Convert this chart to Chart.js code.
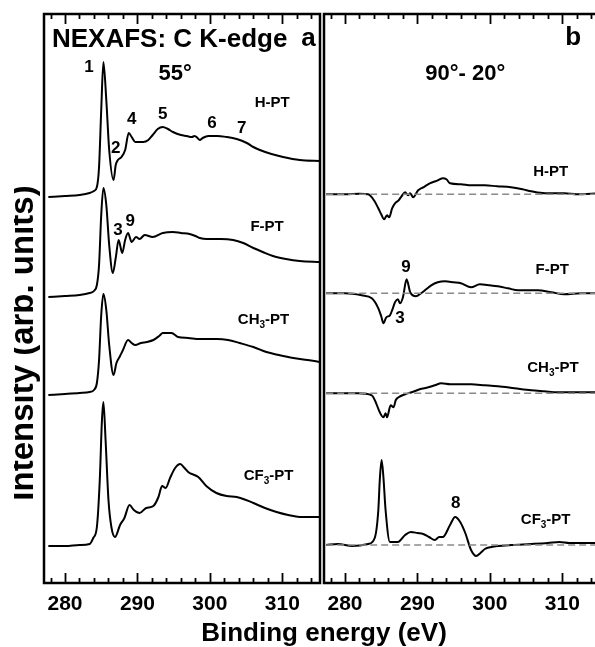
<!DOCTYPE html>
<html><head><meta charset="utf-8">
<script src="https://cdn.jsdelivr.net/npm/chart.js@4.4.1/dist/chart.umd.min.js"></script>
<style>
html,body{margin:0;padding:0;background:#fff;overflow:hidden;width:595px;height:647px;}
#wrap{position:relative;width:602px;height:647px;}
canvas{position:absolute;left:0;top:0;}
</style></head><body>
<div id="wrap"><canvas id="ca" width="602" height="647"></canvas><canvas id="cb" width="602" height="647"></canvas></div>
<script>
// ---------- Panel a: NEXAFS C K-edge, 55 deg (intensity relative to pre-edge, arb. units) ----------
const hptE = [277.7,280,282,283.4,284.0,284.4,284.7,285.0,285.3,285.7,286.1,286.7,287.0,287.3,287.8,288.3,288.8,289.2,289.7,290.8,291.5,292.1,292.8,293.5,294.2,294.9,296.0,296.8,297.5,297.9,298.3,298.6,299.0,299.8,301.0,302.3,303.7,305.1,306.0,306.9,308.5,310.1,312.4,315.2];
const hptI = [0,0.01,0.02,0.04,0.06,0.10,0.30,0.87,1.35,0.97,0.47,0.17,0.32,0.37,0.40,0.47,0.64,0.60,0.55,0.55,0.57,0.62,0.68,0.70,0.68,0.65,0.62,0.61,0.60,0.61,0.59,0.57,0.59,0.61,0.61,0.60,0.58,0.54,0.50,0.47,0.43,0.40,0.37,0.36];
const fptE = [277.7,280,282,283.4,284.0,284.4,284.7,285.0,285.3,285.7,286.1,286.6,287.0,287.4,287.9,288.3,288.7,289.2,289.8,290.3,291.0,292.1,293.5,294.9,296.0,297.2,298.0,298.6,299.6,301.5,303.2,304.6,306.0,307.3,308.7,310.5,312.4,315.2];
const fptI = [0,0.01,0.02,0.04,0.06,0.12,0.32,0.82,1.09,0.92,0.52,0.24,0.39,0.57,0.44,0.57,0.64,0.55,0.60,0.58,0.62,0.60,0.64,0.65,0.64,0.63,0.61,0.59,0.58,0.58,0.57,0.54,0.49,0.45,0.41,0.38,0.36,0.35];
const ch3E = [277.7,280,282,283.4,284.0,284.4,284.7,285.0,285.3,285.7,286.1,286.7,287.1,287.6,288.0,288.7,289.2,289.7,290.5,291.3,292.2,293.0,293.5,294.7,295.6,297.0,298.6,301.0,302.5,304.1,306.0,307.8,309.5,311.5,313.5,315.2];
const ch3I = [0,0.01,0.02,0.03,0.05,0.12,0.35,0.80,1.01,0.85,0.50,0.20,0.32,0.39,0.45,0.55,0.52,0.50,0.52,0.53,0.55,0.59,0.62,0.62,0.58,0.57,0.56,0.56,0.55,0.52,0.48,0.43,0.40,0.37,0.35,0.33];
const cf3E = [277.7,280,282,283.4,283.9,284.4,284.8,285.1,285.3,285.6,286.0,286.4,286.9,287.6,288.2,288.9,289.5,290.3,291.2,292.2,292.9,293.4,293.9,294.5,295.2,295.9,296.5,297.0,298.4,299.5,300.9,302.3,303.7,305.0,306.0,307.6,309.2,310.8,312.4,315.2];
const cf3I = [0,0,0.01,0.02,0.08,0.19,0.66,1.26,1.44,1.06,0.46,0.19,0.09,0.21,0.28,0.41,0.36,0.33,0.38,0.40,0.49,0.60,0.58,0.68,0.78,0.82,0.78,0.74,0.69,0.60,0.53,0.50,0.49,0.46,0.43,0.38,0.34,0.31,0.29,0.29];
const offsetsA = [3.86, 2.86, 1.88, 0.37];   // vertical stacking offsets (H, F, CH3, CF3)

// ---------- Panel b: difference spectra 90 deg - 20 deg ----------
const dhE = [277.4,280,282,283.2,284.0,284.6,285.0,285.4,285.8,286.1,286.5,286.9,287.4,287.8,288.3,288.7,289.0,289.4,290.1,290.8,291.7,292.5,293.5,294.0,294.5,296.0,297.4,299.3,301.0,302.9,304.5,305.7,307.6,310.3,312,315];
const dhI = [0,0,0.005,0,-0.06,-0.14,-0.20,-0.25,-0.21,-0.23,-0.14,-0.09,-0.06,-0.02,0.02,-0.01,0.01,-0.03,0.04,0.07,0.11,0.13,0.16,0.15,0.11,0.10,0.09,0.09,0.08,0.07,0.05,0.03,0.01,0.01,0,0.01];
const dfE = [277.4,280,282.3,283.7,284.6,285.0,285.3,285.7,286.2,286.6,286.9,287.3,287.6,288.0,288.5,289.0,289.8,290.5,291.2,291.9,292.8,293.8,295.0,296.0,297.4,298.6,300.0,301.1,302.5,303.9,305.3,306.6,308.5,310.3,312.6,315];
const dfI = [0,0,-0.02,-0.05,-0.15,-0.23,-0.30,-0.24,-0.22,-0.15,-0.09,-0.06,-0.10,-0.04,0.14,0.01,-0.03,0,0.04,0.08,0.11,0.12,0.11,0.10,0.06,0.09,0.08,0.07,0.05,0.03,0.03,0.03,0.01,-0.01,0,0];
const dmE = [277.4,281.8,283.7,284.3,284.8,285.3,285.6,285.8,286.3,286.7,287.0,287.4,288.3,289.2,290.3,291.5,292.4,293.3,294.5,295.6,297.4,299.3,301.1,303.4,305.7,307.5,309.4,312,315];
const dmI = [0,0,-0.02,-0.10,-0.19,-0.24,-0.20,-0.24,-0.12,-0.14,-0.07,-0.04,-0.01,0.01,0.04,0.06,0.08,0.10,0.09,0.09,0.09,0.08,0.07,0.05,0.03,0.02,0.01,0.01,0.01];
const dcE = [277.4,279,281,283.2,284.1,284.6,284.8,285.05,285.3,285.6,286.2,287.3,288.3,289.1,290.0,290.8,291.6,292.4,293.0,293.5,294.5,295.2,295.9,296.6,297.4,298.1,298.7,299.3,300.2,301.1,303,305.7,308,309.6,311,315];
const dcI = [0,0.01,-0.01,0.01,0.07,0.35,0.65,0.85,0.68,0.35,0.03,0.03,0.10,0.13,0.12,0.11,0.08,0.05,0.08,0.08,0.20,0.28,0.23,0.12,-0.05,-0.11,-0.08,-0.04,-0.02,-0.01,0,0.01,0.02,0.03,0.02,0.02];
const offsetsB = [3.887, 2.897, 1.897, 0.38];

const xTickLabels = [280, 290, 300, 310];
const xRange = [277.1, 315.2];
const yRange = [0, 5.69];

// annotations: text parts [normal, subscript, normal]
const annotA = [
  {t:['NEXAFS: C K-edge'], x:278.2, y:5.36, s:26, al:'left'},
  {t:['a'], x:313.6, y:5.37, s:26},
  {t:['55°'], x:295.2, y:5.03, s:22},
  {t:['1'], x:283.3, y:5.11, s:17},
  {t:['2'], x:287.0, y:4.30, s:17},
  {t:['4'], x:289.2, y:4.59, s:17},
  {t:['5'], x:293.5, y:4.64, s:17},
  {t:['6'], x:300.3, y:4.55, s:17},
  {t:['7'], x:304.4, y:4.50, s:17},
  {t:['H-PT'], x:308.6, y:4.76, s:15},
  {t:['3'], x:287.3, y:3.48, s:17},
  {t:['9'], x:289.0, y:3.57, s:17},
  {t:['F-PT'], x:307.9, y:3.52, s:15},
  {t:['CH','3','-PT'], x:307.4, y:2.59, s:15},
  {t:['CF','3','-PT'], x:308.1, y:1.03, s:15}
];
const annotB = [
  {t:['b'], x:311.5, y:5.38, s:26},
  {t:['90°- 20°'], x:296.6, y:5.03, s:22},
  {t:['H-PT'], x:308.4, y:4.07, s:15},
  {t:['F-PT'], x:308.6, y:3.09, s:15},
  {t:['9'], x:288.4, y:3.11, s:17},
  {t:['3'], x:287.6, y:2.60, s:17},
  {t:['CH','3','-PT'], x:308.7, y:2.11, s:15},
  {t:['8'], x:295.3, y:0.75, s:17},
  {t:['CF','3','-PT'], x:307.7, y:0.59, s:15}
];

const FONT = "'Liberation Sans', Arial, Helvetica, sans-serif";
Chart.defaults.font.family = FONT;
Chart.defaults.color = '#000';

function series(E, I, off) { return E.map((e, i) => ({x: e, y: I[i] + off})); }
function lineDs(data) {
  return {data, borderColor:'#000', borderWidth:2, pointRadius:0, fill:false,
          cubicInterpolationMode:'monotone', tension:0.3};
}
function baseDs(off) {
  return {data:[{x:277.4,y:off},{x:315.2,y:off}], borderColor:'#8a8a8a', borderWidth:1.6,
          borderDash:[7,4], pointRadius:0, fill:false};
}

function drawRich(ctx, parts, x, y, size, align) {
  const big = `bold ${size}px ${FONT}`, small = `bold ${Math.round(size*0.66)}px ${FONT}`;
  const widths = parts.map((p, i) => { ctx.font = (i % 2 === 1) ? small : big; return ctx.measureText(p).width; });
  const total = widths.reduce((a, b) => a + b, 0);
  let cx = align === 'left' ? x : x - total / 2;
  ctx.textAlign = 'left'; ctx.textBaseline = 'alphabetic'; ctx.fillStyle = '#000';
  parts.forEach((p, i) => {
    ctx.font = (i % 2 === 1) ? small : big;
    ctx.fillText(p, cx, (i % 2 === 1) ? y + size * 0.25 : y);
    cx += widths[i];
  });
}

function panelPlugin(annots, withTitles) {
  return {
    id: 'panel',
    afterDraw(chart) {
      const {ctx, chartArea: a, scales: {x, y}} = chart;
      ctx.save();
      // inward ticks, top and bottom
      ctx.strokeStyle = '#000'; ctx.lineWidth = 1.8;
      for (let v = 278; v <= 314; v += 2) {
        const px = Math.round(x.getPixelForValue(v)) + 0.5;
        if (px < a.left || px > a.right) continue;
        const len = (v % 10 === 0) ? 10 : 5;
        ctx.beginPath();
        ctx.moveTo(px, a.bottom); ctx.lineTo(px, a.bottom - len);
        ctx.moveTo(px, a.top); ctx.lineTo(px, a.top + len);
        ctx.stroke();
      }
      // frame
      ctx.lineWidth = 2.5;
      ctx.strokeRect(a.left, a.top, a.right - a.left, a.bottom - a.top);
      // annotations
      annots.forEach(o => drawRich(ctx, o.t, x.getPixelForValue(o.x), y.getPixelForValue(o.y), o.s, o.al));
      if (withTitles) {
        ctx.font = `bold 26px ${FONT}`; ctx.textAlign = 'center'; ctx.textBaseline = 'alphabetic';
        ctx.fillText('Binding energy (eV)', 324, 641);
        ctx.save();
        ctx.beginPath(); ctx.rect(14, 0, 40, 647); ctx.clip();
        ctx.translate(33, 343); ctx.rotate(-Math.PI / 2);
        ctx.font = `bold 33px ${FONT}`;
        ctx.fillText('Intensity (arb. units)', 0, 0);
        ctx.restore();
      }
      ctx.restore();
    }
  };
}

function makeOptions(padL, padR) {
  return {
    responsive:false, animation:false, devicePixelRatio:1,
    layout:{padding:{top:14, left:padL, right:padR, bottom:0}},
    plugins:{legend:{display:false}, tooltip:{enabled:false}},
    scales:{
      x:{type:'linear', min:xRange[0], max:xRange[1],
         grid:{display:false, drawTicks:false}, border:{display:false},
         afterBuildTicks(s){ s.ticks = xTickLabels.map(v => ({value:v})); },
         ticks:{font:{size:21, weight:'bold'}, color:'#000', padding:9, maxRotation:0, autoSkip:false, includeBounds:false},
         afterFit(s){ s.height = 64; }},
      y:{display:false, min:yRange[0], max:yRange[1]}
    }
  };
}

new Chart(document.getElementById('ca'), {
  type:'line',
  data:{datasets:[
    lineDs(series(hptE, hptI, offsetsA[0])),
    lineDs(series(fptE, fptI, offsetsA[1])),
    lineDs(series(ch3E, ch3I, offsetsA[2])),
    lineDs(series(cf3E, cf3I, offsetsA[3]))
  ]},
  options:makeOptions(44, 282),
  plugins:[panelPlugin(annotA, true)]
});

new Chart(document.getElementById('cb'), {
  type:'line',
  data:{datasets:[
    baseDs(offsetsB[0]), baseDs(offsetsB[1]), baseDs(offsetsB[2]), baseDs(offsetsB[3]),
    lineDs(series(dhE, dhI, offsetsB[0])),
    lineDs(series(dfE, dfI, offsetsB[1])),
    lineDs(series(dmE, dmI, offsetsB[2])),
    lineDs(series(dcE, dcI, offsetsB[3]))
  ]},
  options:makeOptions(324, 2),
  plugins:[panelPlugin(annotB, false)]
});
</script>
</body></html>
